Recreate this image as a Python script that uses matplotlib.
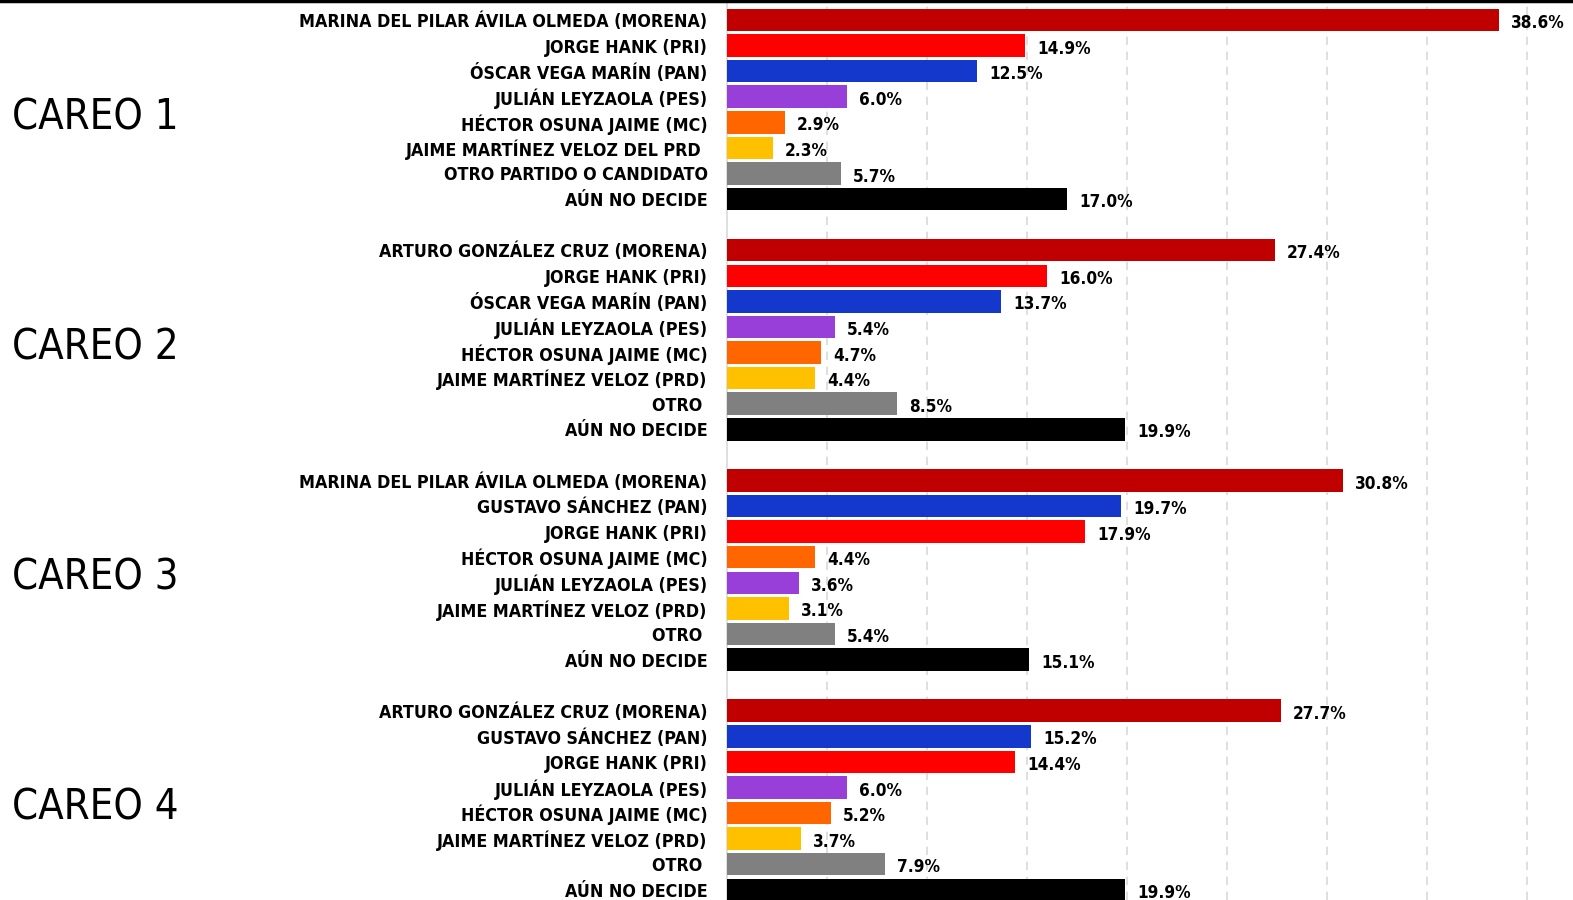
#!/usr/bin/env python3
import matplotlib
matplotlib.use("Agg")
import matplotlib.pyplot as plt
import matplotlib.transforms as mtransforms
from matplotlib.lines import Line2D
from matplotlib import font_manager

# --- data -------------------------------------------------------------
careos = ["CAREO 1", "CAREO 2", "CAREO 3", "CAREO 4"]

labels_1 = ["MARINA DEL PILAR ÁVILA OLMEDA (MORENA)", "JORGE HANK (PRI)",
            "ÓSCAR VEGA MARÍN (PAN)", "JULIÁN LEYZAOLA (PES)",
            "HÉCTOR OSUNA JAIME (MC)", "JAIME MARTÍNEZ VELOZ DEL PRD ",
            "OTRO PARTIDO O CANDIDATO", "AÚN NO DECIDE"]
labels_2 = ["ARTURO GONZÁLEZ CRUZ (MORENA)", "JORGE HANK (PRI)",
            "ÓSCAR VEGA MARÍN (PAN)", "JULIÁN LEYZAOLA (PES)",
            "HÉCTOR OSUNA JAIME (MC)", "JAIME MARTÍNEZ VELOZ (PRD)",
            "OTRO ", "AÚN NO DECIDE"]
labels_3 = ["MARINA DEL PILAR ÁVILA OLMEDA (MORENA)", "GUSTAVO SÁNCHEZ (PAN)",
            "JORGE HANK (PRI)", "HÉCTOR OSUNA JAIME (MC)",
            "JULIÁN LEYZAOLA (PES)", "JAIME MARTÍNEZ VELOZ (PRD)",
            "OTRO ", "AÚN NO DECIDE"]
labels_4 = ["ARTURO GONZÁLEZ CRUZ (MORENA)", "GUSTAVO SÁNCHEZ (PAN)",
            "JORGE HANK (PRI)", "JULIÁN LEYZAOLA (PES)",
            "HÉCTOR OSUNA JAIME (MC)", "JAIME MARTÍNEZ VELOZ (PRD)",
            "OTRO ", "AÚN NO DECIDE"]

values_1 = [38.6, 14.9, 12.5, 6.0, 2.9, 2.3, 5.7, 17.0]
values_2 = [27.4, 16.0, 13.7, 5.4, 4.7, 4.4, 8.5, 19.9]
values_3 = [30.8, 19.7, 17.9, 4.4, 3.6, 3.1, 5.4, 15.1]
values_4 = [27.7, 15.2, 14.4, 6.0, 5.2, 3.7, 7.9, 19.9]

party_1 = ["MORENA", "PRI", "PAN", "PES", "MC", "PRD", "OTRO", "NODECIDE"]
party_2 = ["MORENA", "PRI", "PAN", "PES", "MC", "PRD", "OTRO", "NODECIDE"]
party_3 = ["MORENA", "PAN", "PRI", "MC", "PES", "PRD", "OTRO", "NODECIDE"]
party_4 = ["MORENA", "PAN", "PRI", "PES", "MC", "PRD", "OTRO", "NODECIDE"]

colors = {"MORENA": "#c00000", "PRI": "#ff0000", "PAN": "#1538cc",
          "PES": "#983fd9", "MC": "#ff6600", "PRD": "#ffc000",
          "OTRO": "#808080", "NODECIDE": "#000000"}

groups = [(labels_1, values_1, party_1), (labels_2, values_2, party_2),
          (labels_3, values_3, party_3), (labels_4, values_4, party_4)]

# --- fonts: condensed look close to the original's Calibri ------------
bold_fp = font_manager.FontProperties(family="DejaVu Sans", stretch="condensed",
                                      weight="bold", size=12.8)
value_fp = font_manager.FontProperties(family="DejaVu Sans", stretch="condensed",
                                       weight="bold", size=12.3)
big_fp = font_manager.FontProperties(family="DejaVu Sans", stretch="condensed",
                                     size=30)

# --- plot -------------------------------------------------------------
fig = plt.figure(figsize=(15.73, 9.0), dpi=100)
ax = fig.add_axes([727 / 1573, 0.0, 1 - 727 / 1573, 1.0])

rows_per_group = 9
ypos, ylabels = [], []
for g, (labs, vals, parts) in enumerate(groups):
    for i, (lab, v, p) in enumerate(zip(labs, vals, parts)):
        y = g * rows_per_group + i
        ax.barh(y, v, height=0.88, color=colors[p], zorder=3)
        ax.text(v + 0.6, y + 0.12, f"{v:.1f}%", va="center", ha="left",
                fontproperties=value_fp, zorder=4)
        ypos.append(y)
        ylabels.append(lab)

ax.set_yticks(ypos)
ax.set_yticklabels(ylabels, fontproperties=bold_fp)
ax.tick_params(axis="y", length=0, pad=14)
ax.set_xticks([5, 10, 15, 20, 25, 30, 35, 40])
ax.tick_params(axis="x", length=0, labelbottom=False)
ax.grid(axis="x", color="#d9d9d9", linestyle=(0, (5, 4)), linewidth=1.2, zorder=0)

ax.set_xlim(0, 42.3)
ax.set_ylim(34.4, -0.78)
for s in ["top", "right", "bottom"]:
    ax.spines[s].set_visible(False)
ax.spines["left"].set_color("#d9d9d9")
ax.spines["left"].set_linewidth(1.2)

trans = mtransforms.blended_transform_factory(fig.transFigure, ax.transData)
for g, name in enumerate(careos):
    yc = g * rows_per_group + 3.5 + 0.3
    ax.text(12 / 1573, yc, name, transform=trans, ha="left", va="center",
            fontproperties=big_fp)

fig.add_artist(Line2D([0, 1], [0.9985, 0.9985], transform=fig.transFigure,
                      color="black", linewidth=2.5))

fig.savefig("out.png", dpi=100)
